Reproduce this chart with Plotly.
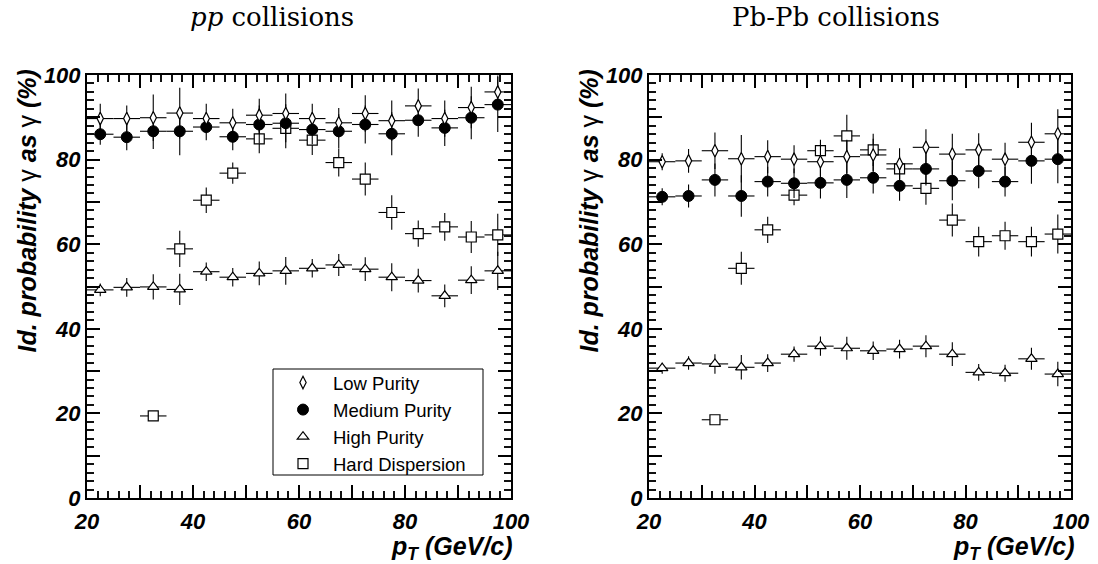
import plotly.graph_objects as go

# ---------------- data ----------------
pt_bins = [22.5, 27.5, 32.5, 37.5, 42.5, 47.5, 52.5, 57.5, 62.5, 67.5, 72.5, 77.5, 82.5, 87.5, 92.5, 97.5]
pt_halfwidth = 2.5

pp_low = [89.7, 89.7, 89.9, 91.0, 89.7, 88.7, 90.5, 90.9, 89.7, 88.7, 90.9, 89.2, 92.7, 89.7, 92.3, 96.0]
pp_low_err = [3.5, 3.1, 5.5, 6.0, 3.5, 3.3, 3.9, 4.7, 3.5, 3.5, 4.3, 4.8, 4.1, 4.3, 4.9, 3.9]
pp_med = [86.0, 85.3, 86.7, 86.7, 87.7, 85.4, 88.3, 88.6, 87.1, 86.7, 88.3, 86.1, 89.3, 87.5, 89.9, 93.0]
pp_med_err = [2.5, 3.1, 4.2, 5.7, 3.1, 3.2, 4.5, 4.5, 3.5, 4.0, 4.5, 5.1, 3.9, 4.3, 5.1, 6.5]
pp_high = [49.2, 49.8, 49.9, 49.3, 53.5, 52.2, 53.1, 53.7, 54.3, 55.1, 54.1, 52.2, 51.4, 47.8, 51.5, 53.7]
pp_high_err = [1.5, 2.2, 3.0, 3.7, 2.2, 2.2, 2.8, 3.3, 2.2, 2.6, 2.8, 3.3, 2.8, 2.7, 3.3, 4.5]
pp_hd = [None, None, 19.4, 58.9, 70.4, 76.8, 84.9, 87.4, 84.6, 79.3, 75.4, 67.5, 62.5, 64.1, 61.7, 62.2]
pp_hd_err = [None, None, 1.0, 4.3, 3.0, 2.5, 3.4, 4.7, 3.5, 3.3, 3.9, 4.1, 3.1, 3.3, 3.8, 5.0]

pb_low = [79.5, 79.7, 82.1, 80.2, 80.7, 80.1, 79.5, 80.7, 81.1, 79.0, 82.9, 81.3, 82.3, 80.1, 84.1, 86.1]
pb_low_err = [2.0, 2.8, 4.3, 5.6, 3.9, 3.3, 3.9, 4.0, 3.8, 3.7, 4.3, 4.8, 3.9, 3.9, 4.6, 5.8]
pb_med = [71.2, 71.4, 75.2, 71.4, 74.8, 74.4, 74.5, 75.2, 75.7, 73.8, 77.8, 75.0, 77.3, 74.8, 79.7, 80.1]
pb_med_err = [2.0, 2.7, 3.9, 4.9, 3.5, 3.5, 3.7, 4.3, 3.7, 3.5, 3.9, 4.6, 4.1, 3.5, 5.4, 5.7]
pb_high = [30.7, 31.9, 31.7, 30.9, 31.9, 34.0, 35.9, 35.4, 34.8, 35.2, 35.9, 34.0, 29.7, 29.5, 32.9, 29.3]
pb_high_err = [1.3, 1.6, 2.3, 2.9, 2.1, 1.8, 2.3, 2.7, 2.2, 2.2, 2.6, 2.8, 2.0, 2.0, 2.6, 2.9]
pb_hd = [None, None, 18.5, 54.3, 63.4, 71.6, 82.1, 85.6, 82.3, 77.8, 73.2, 65.7, 60.6, 62.0, 60.6, 62.4]
pb_hd_err = [None, None, 1.0, 3.9, 3.1, 2.4, 2.6, 5.0, 3.8, 3.0, 3.9, 3.9, 3.5, 3.3, 3.5, 4.6]

series_names = ["Low Purity", "Medium Purity", "High Purity", "Hard Dispersion"]
x_range = [20, 100]
y_range = [0, 100]

# ---------------- styles ----------------
W, H = 1098, 564
SANS = "Liberation Sans"
styles = {
    "Low Purity": dict(symbol="diamond-tall", size=9, color="white", line=dict(color="black", width=1.2)),
    "Medium Purity": dict(symbol="circle", size=11, color="black", line=dict(color="black", width=1)),
    "High Purity": dict(symbol="triangle-up", size=10, color="white", line=dict(color="black", width=1.2)),
    "Hard Dispersion": dict(symbol="square", size=10, color="white", line=dict(color="black", width=1.2)),
}
rank = {"Low Purity": 1, "Medium Purity": 2, "High Purity": 3, "Hard Dispersion": 4}

fig = go.Figure()

panels = [
    ("x", "y", {"Low Purity": (pp_low, pp_low_err), "Medium Purity": (pp_med, pp_med_err),
                "High Purity": (pp_high, pp_high_err), "Hard Dispersion": (pp_hd, pp_hd_err)}, True),
    ("x2", "y2", {"Low Purity": (pb_low, pb_low_err), "Medium Purity": (pb_med, pb_med_err),
                  "High Purity": (pb_high, pb_high_err), "Hard Dispersion": (pb_hd, pb_hd_err)}, False),
]

draw_order = ["Hard Dispersion", "High Purity", "Medium Purity", "Low Purity"]
for xa, ya, data, show in panels:
    for name in draw_order:
        vals, errs = data[name]
        fig.add_trace(go.Scatter(
            x=pt_bins, y=vals, mode="markers", name=name,
            xaxis=xa, yaxis=ya, showlegend=show, legendrank=rank[name],
            marker=styles[name],
            error_x=dict(type="constant", value=pt_halfwidth, color="black", thickness=1.1, width=0),
            error_y=dict(type="data", array=errs, color="black", thickness=1.1, width=0),
            cliponaxis=False,
        ))

tickfont = dict(family=SANS, size=22, color="black", weight="bold", style="italic")

common = dict(tickmode="linear", tick0=0, dtick=10, ticklabelstep=2,
              ticks="inside", ticklen=13, tickwidth=1.5, tickcolor="black",
              minor=dict(tick0=0, dtick=2, ticks="inside", ticklen=7, tickwidth=1.5,
                         tickcolor="#111111", showgrid=False),
              showline=True, linewidth=2, linecolor="black", mirror="allticks",
              showgrid=False, zeroline=False, tickfont=tickfont,
              automargin=False, fixedrange=True)

ydom = [1 - 498 / H, 1 - 75 / H]
fig.update_layout(
    width=W, height=H, margin=dict(l=0, r=0, t=0, b=0),
    paper_bgcolor="white", plot_bgcolor="white",
    xaxis=dict(domain=[87 / W, 511 / W], range=x_range, anchor="y", ticklabelstandoff=3, **common),
    yaxis=dict(domain=ydom, range=y_range, anchor="x", ticklabelstandoff=0, **common),
    xaxis2=dict(domain=[649 / W, 1071 / W], range=x_range, anchor="y2", ticklabelstandoff=3, **common),
    yaxis2=dict(domain=ydom, range=y_range, anchor="x2", ticklabelstandoff=0, **common),
    showlegend=True,
    legend=dict(x=273 / W, y=1 - 364 / H, xanchor="left", yanchor="top",
                borderwidth=0, bgcolor="rgba(0,0,0,0)", itemwidth=50,
                font=dict(family=SANS, size=18.5, color="black"), itemsizing="trace",
                traceorder="normal"),
    shapes=[dict(type="rect", xref="paper", yref="paper",
                 x0=273 / W, x1=483 / W, y0=1 - 475 / H, y1=1 - 369 / H,
                 line=dict(color="black", width=1), fillcolor="rgba(0,0,0,0)", layer="below")],
)

ytitle = "<b><i>Id. probability </i></b>γ<b><i> as </i></b>γ<b><i> (%)</i></b>"
xtitle = "<b><i>p<sub>T</sub> (GeV/c)</i></b>"
title_font = dict(family="DejaVu Serif", size=26, color="black")
axis_title_font = dict(family=SANS, size=25, color="black")

annotations = [
    dict(text="<i>pp</i> collisions", x=272 / W, y=1 - 17 / H, xref="paper", yref="paper",
         xanchor="center", yanchor="middle", showarrow=False, font=title_font),
    dict(text="Pb-Pb collisions", x=836 / W, y=1 - 17 / H, xref="paper", yref="paper",
         xanchor="center", yanchor="middle", showarrow=False, font=title_font),
]
for off in (0, 562):
    annotations.append(dict(text=ytitle, textangle=-90, x=(27 + off) / W, y=1 - 68 / H,
                            xref="paper", yref="paper", xanchor="center", yanchor="top",
                            showarrow=False, font=axis_title_font))
    annotations.append(dict(text=xtitle, x=(514 + off) / W, y=1 - 548 / H, xref="paper", yref="paper",
                            xanchor="right", yanchor="middle", showarrow=False, font=axis_title_font))
fig.update_layout(annotations=annotations)

fig.write_html("out.html")
